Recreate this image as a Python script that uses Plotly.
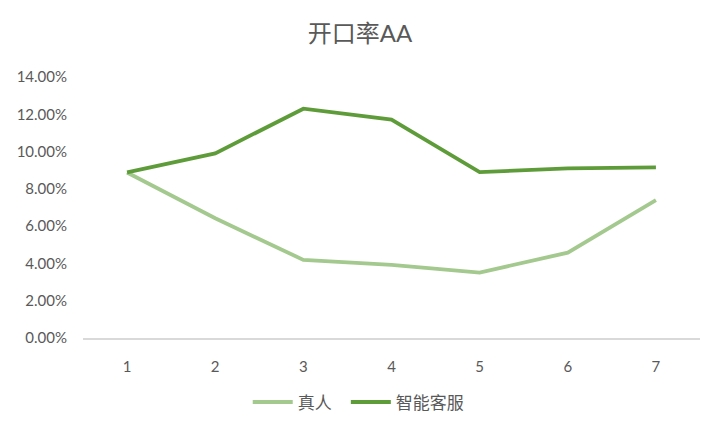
import plotly.graph_objects as go

categories = ["1", "2", "3", "4", "5", "6", "7"]
real_person = [0.0888, 0.0642, 0.0419, 0.0392, 0.0351, 0.0458, 0.0740]
smart_service = [0.0888, 0.0990, 0.1230, 0.1172, 0.0890, 0.0910, 0.0915]
series_names = ["真人", "智能客服"]
y_ticks = [0, 0.02, 0.04, 0.06, 0.08, 0.10, 0.12, 0.14]

FONT = "Lato, Noto Sans CJK SC, sans-serif"
TXT = "#595959"

fig = go.Figure()
fig.add_trace(go.Scatter(x=categories, y=real_person, name=series_names[0], mode="lines",
                         line=dict(color="#A3C98E", width=3.8), legend="legend"))
fig.add_trace(go.Scatter(x=categories, y=smart_service, name=series_names[1], mode="lines",
                         line=dict(color="#5E9C3A", width=3.8), legend="legend2"))

legend_common = dict(orientation="h", xanchor="left", y=-0.247, yanchor="middle",
                     font=dict(family=FONT, size=17, color=TXT), itemwidth=40)

# page is rendered with a body margin, so the margins are shifted to compensate
fig.update_layout(
    width=719, height=431,
    paper_bgcolor="white", plot_bgcolor="white",
    margin=dict(l=75, r=27, t=69, b=101),
    title=dict(text="开口率AA", x=(360 - 8) / 719, xanchor="center", y=1 - 26 / 431, yanchor="middle",
               font=dict(family=FONT, size=24, color=TXT)),
    font=dict(family=FONT, size=15, color=TXT),
    showlegend=True,
    legend=dict(x=0.267, **legend_common),
    legend2=dict(x=0.426, **legend_common),
    xaxis=dict(type="category", range=[-0.5, 6.5], showgrid=False, showline=True, automargin=False,
               linecolor="#D9D9D9", linewidth=1.5, ticks="", ticklabelstandoff=14,
               tickfont=dict(family=FONT, size=15, color=TXT), zeroline=False),
    yaxis=dict(range=[0, 0.14], tickvals=y_ticks, tickformat=".2%", showgrid=False, automargin=False,
               showline=False, zeroline=False, ticks="", ticklabelstandoff=15,
               tickfont=dict(family=FONT, size=15, color=TXT)),
)

fig.write_html("out.html")
